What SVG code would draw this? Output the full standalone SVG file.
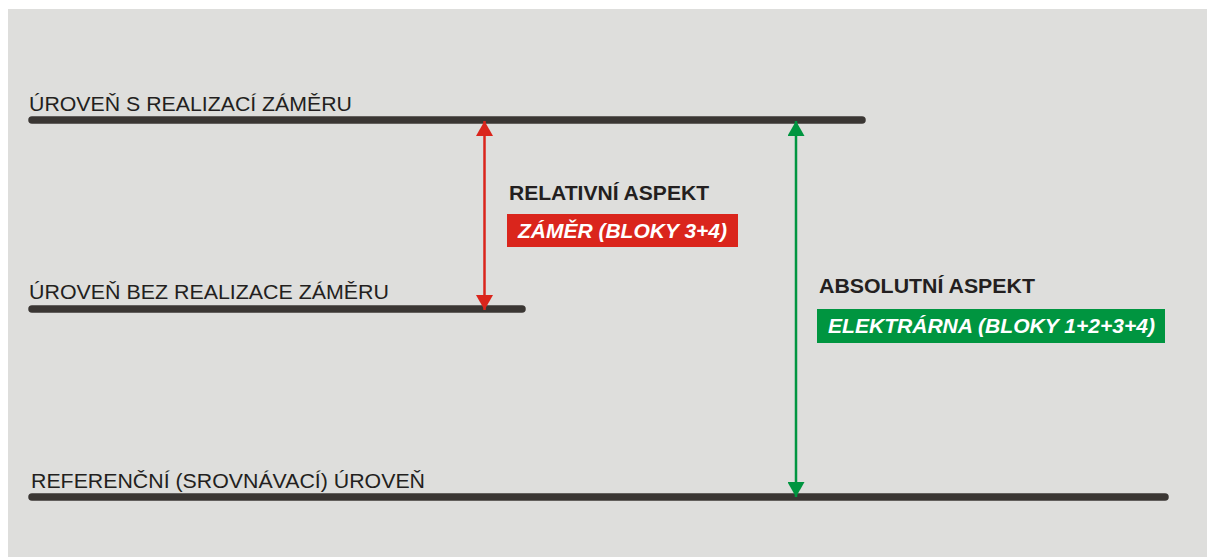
<svg xmlns="http://www.w3.org/2000/svg" width="1207" height="557" viewBox="0 0 1207 557">
  <style>
    .level { fill: none; stroke: #3a3633; stroke-width: 7.5; stroke-linecap: round; }
    .lbl { font-family: "Liberation Sans", Arial, sans-serif; font-size: 19.5px; fill: #231f20; }
    .head { font-family: "Liberation Sans", Arial, sans-serif; font-size: 20.5px; font-weight: bold; fill: #231f20; }
    .tag { font-family: "Liberation Sans", Arial, sans-serif; font-size: 19.5px; font-weight: bold; font-style: italic; fill: #ffffff; }
  </style>
  <defs>
    <marker id="arrRed" markerUnits="userSpaceOnUse" markerWidth="15" markerHeight="17" refX="15" refY="8.5" orient="auto-start-reverse">
      <path d="M0,0 L15,8.5 L0,17 Z" fill="#da251c"/>
    </marker>
    <marker id="arrGreen" markerUnits="userSpaceOnUse" markerWidth="15" markerHeight="17" refX="15" refY="8.5" orient="auto-start-reverse">
      <path d="M0,0 L15,8.5 L0,17 Z" fill="#009540"/>
    </marker>
  </defs>

  <rect x="0" y="0" width="1207" height="557" fill="#ffffff"/>
  <rect x="8" y="9" width="1199" height="548" fill="#dededc"/>

  <g id="level-with-project">
    <path class="level" d="M32,120 H862"/>
    <text class="lbl" x="29" y="111" textLength="323" lengthAdjust="spacingAndGlyphs">ÚROVEŇ S REALIZACÍ ZÁMĚRU</text>
  </g>

  <g id="level-without-project">
    <path class="level" d="M32,309 H522"/>
    <text class="lbl" x="29" y="299" textLength="360" lengthAdjust="spacingAndGlyphs">ÚROVEŇ BEZ REALIZACE ZÁMĚRU</text>
  </g>

  <g id="level-reference">
    <path class="level" d="M32,497 H1165"/>
    <text class="lbl" x="31" y="488" textLength="394" lengthAdjust="spacingAndGlyphs">REFERENČNÍ (SROVNÁVACÍ) ÚROVEŇ</text>
  </g>

  <g id="connectors">
    <line x1="484.5" y1="121" x2="484.5" y2="310" stroke="#da251c" stroke-width="2.5" marker-start="url(#arrRed)" marker-end="url(#arrRed)"/>
    <line x1="796" y1="121" x2="796" y2="497" stroke="#009540" stroke-width="2.5" marker-start="url(#arrGreen)" marker-end="url(#arrGreen)"/>
  </g>

  <g id="relative-aspect">
    <text class="head" x="509" y="200" textLength="200" lengthAdjust="spacingAndGlyphs">RELATIVNÍ ASPEKT</text>
    <rect x="507" y="214" width="231" height="33" fill="#da251c"/>
    <text class="tag" x="518" y="238" textLength="209" lengthAdjust="spacingAndGlyphs">ZÁMĚR (BLOKY 3+4)</text>
  </g>

  <g id="absolute-aspect">
    <text class="head" x="819" y="293" textLength="216" lengthAdjust="spacingAndGlyphs">ABSOLUTNÍ ASPEKT</text>
    <rect x="817" y="309" width="348" height="34" fill="#009540"/>
    <text class="tag" x="828" y="333" textLength="327" lengthAdjust="spacingAndGlyphs">ELEKTRÁRNA (BLOKY 1+2+3+4)</text>
  </g>
</svg>
